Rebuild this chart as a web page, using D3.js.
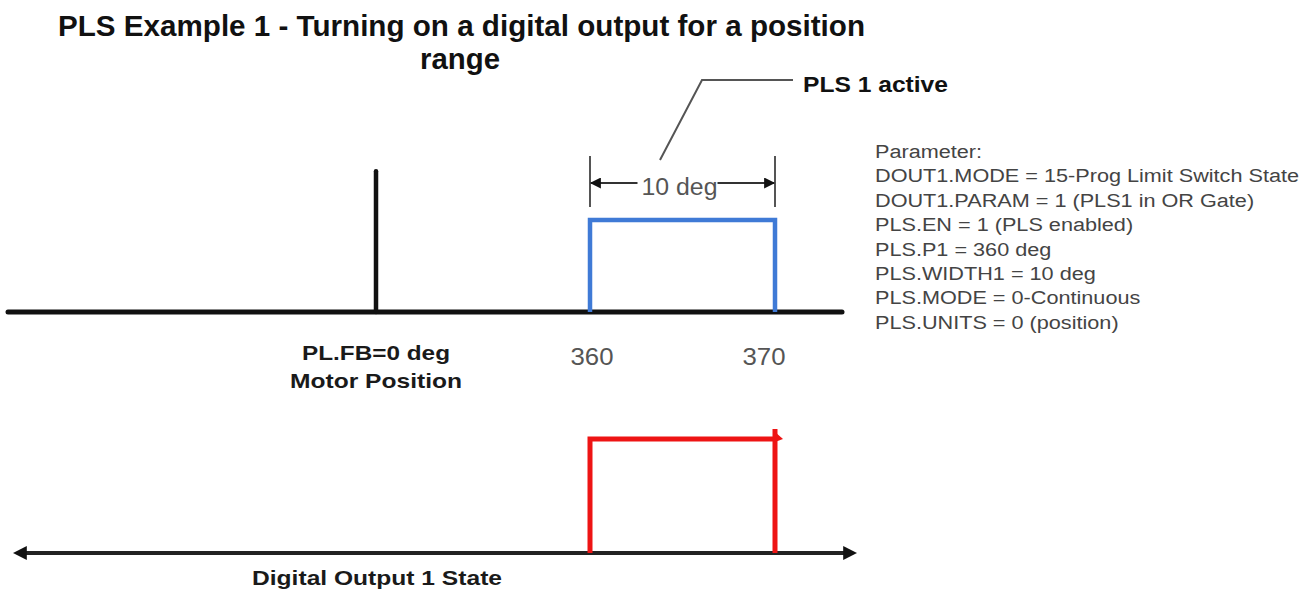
<!DOCTYPE html>
<html>
<head>
<meta charset="utf-8">
<script src="https://cdn.jsdelivr.net/npm/d3@7"></script>
<style>
  html, body { margin: 0; padding: 0; background: #fff; }
  svg { display: block; font-family: "Liberation Sans", Arial, sans-serif; }
</style>
</head>
<body>
<svg id="chart" width="1299" height="589"></svg>
<script>
// ---------- data ----------
const titleLines = ["PLS Example 1 - Turning on a digital output for a position", "range"];
const motorMarkerPos = 0;                      // PL.FB = 0 deg
const motorLabels = ["PL.FB=0 deg", "Motor Position"];
const tickPositions = [360, 370];              // deg
const tickLabels = ["360", "370"];
const plsStart = 360;                          // PLS.P1
const plsWidth = 10;                           // PLS.WIDTH1
const plsWidthLabel = "10 deg";
const plsCallout = "PLS 1 active";
const plsSignalX = [plsStart, plsStart, plsStart + plsWidth, plsStart + plsWidth];
const plsSignalV = [0, 1, 1, 0];
const doutSignalX = [plsStart, plsStart, plsStart + plsWidth, plsStart + plsWidth];
const doutSignalV = [0, 1, 1, 0];
const doutLabel = "Digital Output 1 State";
const paramLines = [
  "Parameter:",
  "DOUT1.MODE = 15-Prog Limit Switch State",
  "DOUT1.PARAM = 1 (PLS1 in OR Gate)",
  "PLS.EN = 1 (PLS enabled)",
  "PLS.P1 = 360 deg",
  "PLS.WIDTH1 = 10 deg",
  "PLS.MODE = 0-Continuous",
  "PLS.UNITS = 0 (position)"
];

// ---------- layout ----------
const svg = d3.select("#chart");
// schematic (piecewise) position scale
const x = d3.scaleLinear().domain([0, 360, 370]).range([376, 590, 775]);
const yTop = d3.scaleLinear().domain([0, 1]).range([312, 220]);
const yBot = d3.scaleLinear().domain([0, 1]).range([553, 439]);
const axisTop = { x0: 8, x1: 842 };
const axisBot = { x0: 12, x1: 858 };

const defs = svg.append("defs");
defs.append("marker").attr("id", "arrBlack")
  .attr("viewBox", "0 0 10 10").attr("refX", 2).attr("refY", 5)
  .attr("markerUnits", "userSpaceOnUse").attr("markerWidth", 14).attr("markerHeight", 16)
  .attr("orient", "auto-start-reverse")
  .append("path").attr("d", "M0,0 L10,5 L0,10 Z").attr("fill", "#111");
defs.append("marker").attr("id", "arrDim")
  .attr("viewBox", "0 0 10 10").attr("refX", 9).attr("refY", 5)
  .attr("markerUnits", "userSpaceOnUse").attr("markerWidth", 14).attr("markerHeight", 11)
  .attr("orient", "auto-start-reverse")
  .append("path").attr("d", "M0,0 L10,5 L0,10 Z").attr("fill", "#111");

// ---------- title ----------
svg.append("text").attr("x", 58).attr("y", 36)
  .attr("font-size", 29).attr("font-weight", "bold").attr("fill", "#111")
  .attr("textLength", 807).attr("lengthAdjust", "spacingAndGlyphs")
  .text(titleLines[0]);
svg.append("text").attr("x", 460).attr("y", 69).attr("text-anchor", "middle")
  .attr("font-size", 29).attr("font-weight", "bold").attr("fill", "#111")
  .attr("textLength", 80).attr("lengthAdjust", "spacingAndGlyphs")
  .text(titleLines[1]);

// ---------- top: motor position ----------
svg.append("line")
  .attr("x1", axisTop.x0).attr("x2", axisTop.x1)
  .attr("y1", yTop(0)).attr("y2", yTop(0))
  .attr("stroke", "#111").attr("stroke-width", 5).attr("stroke-linecap", "round");

svg.append("line")
  .attr("x1", x(motorMarkerPos)).attr("x2", x(motorMarkerPos))
  .attr("y1", yTop(0)).attr("y2", yTop(1.53))
  .attr("stroke", "#111").attr("stroke-width", 4.5).attr("stroke-linecap", "round");

const line = (ys) => d3.line().x(d => x(d[0])).y(d => ys(d[1]));

svg.append("path")
  .datum(d3.zip(plsSignalX, plsSignalV))
  .attr("d", line(yTop))
  .attr("fill", "none").attr("stroke", "#3f7ad6").attr("stroke-width", 4.5)
  .attr("stroke-linejoin", "miter");

// labels under the top axis
svg.append("text").attr("x", x(motorMarkerPos)).attr("y", 360).attr("text-anchor", "middle")
  .attr("font-size", 21).attr("font-weight", "bold").attr("fill", "#1a1a1a")
  .attr("textLength", 148).attr("lengthAdjust", "spacingAndGlyphs")
  .text(motorLabels[0]);
svg.append("text").attr("x", x(motorMarkerPos)).attr("y", 388).attr("text-anchor", "middle")
  .attr("font-size", 21).attr("font-weight", "bold").attr("fill", "#1a1a1a")
  .attr("textLength", 172).attr("lengthAdjust", "spacingAndGlyphs")
  .text(motorLabels[1]);

svg.selectAll("text.tick").data(tickPositions).join("text").attr("class", "tick")
  .attr("x", (d, i) => x(d) + (i === 0 ? 2 : -11)).attr("y", 365).attr("text-anchor", "middle")
  .attr("font-size", 23).attr("fill", "#555")
  .attr("textLength", 43).attr("lengthAdjust", "spacingAndGlyphs")
  .text((d, i) => tickLabels[i]);

// dimension: 10 deg
const dimY = 183;
[plsStart, plsStart + plsWidth].forEach(p => {
  svg.append("line").attr("x1", x(p)).attr("x2", x(p)).attr("y1", 156).attr("y2", 207)
    .attr("stroke", "#555").attr("stroke-width", 2);
});
const dimMid = (x(plsStart) + x(plsStart + plsWidth)) / 2 - 3;
svg.append("line").attr("x1", dimMid - 42).attr("x2", x(plsStart) + 1).attr("y1", dimY).attr("y2", dimY)
  .attr("stroke", "#333").attr("stroke-width", 2).attr("marker-end", "url(#arrDim)");
svg.append("line").attr("x1", dimMid + 38).attr("x2", x(plsStart + plsWidth) - 1).attr("y1", dimY).attr("y2", dimY)
  .attr("stroke", "#333").attr("stroke-width", 2).attr("marker-end", "url(#arrDim)");
svg.append("text").attr("x", dimMid).attr("y", 195).attr("text-anchor", "middle")
  .attr("font-size", 23).attr("fill", "#555")
  .attr("textLength", 76).attr("lengthAdjust", "spacingAndGlyphs")
  .text(plsWidthLabel);

// callout leader
svg.append("path")
  .attr("d", d3.line()([[660, 160], [702, 80], [793, 80]]))
  .attr("fill", "none").attr("stroke", "#555").attr("stroke-width", 2);
svg.append("text").attr("x", 803).attr("y", 92)
  .attr("font-size", 22).attr("font-weight", "bold").attr("fill", "#111")
  .attr("textLength", 145).attr("lengthAdjust", "spacingAndGlyphs")
  .text(plsCallout);

// parameter block
const pg = svg.append("g").attr("transform", "translate(875,0) scale(1.14,1)");
pg.selectAll("text").data(paramLines).join("text")
  .attr("x", 0).attr("y", (d, i) => 158 + i * 24.4)
  .attr("font-size", 19).attr("fill", "#444")
  .text(d => d);

// ---------- bottom: digital output ----------
svg.append("line")
  .attr("x1", axisBot.x0 + 12).attr("x2", axisBot.x1 - 12)
  .attr("y1", yBot(0)).attr("y2", yBot(0))
  .attr("stroke", "#222").attr("stroke-width", 4)
  .attr("marker-start", "url(#arrBlack)").attr("marker-end", "url(#arrBlack)");

svg.append("path")
  .datum(d3.zip(doutSignalX, doutSignalV))
  .attr("d", line(yBot))
  .attr("fill", "none").attr("stroke", "#ee1414").attr("stroke-width", 5)
  .attr("stroke-linejoin", "miter");
// small overshoot at the falling edge top
svg.append("line")
  .attr("x1", x(plsStart + plsWidth)).attr("x2", x(plsStart + plsWidth))
  .attr("y1", yBot(1)).attr("y2", yBot(1) - 10)
  .attr("stroke", "#ee1414").attr("stroke-width", 5);
svg.append("path")
  .attr("d", `M${x(plsStart + plsWidth)},${yBot(1) - 7} L${x(plsStart + plsWidth) + 8},${yBot(1)} L${x(plsStart + plsWidth)},${yBot(1) + 3} Z`)
  .attr("fill", "#ee1414");

svg.append("text").attr("x", 377).attr("y", 585).attr("text-anchor", "middle")
  .attr("font-size", 21).attr("font-weight", "bold").attr("fill", "#1a1a1a")
  .attr("textLength", 250).attr("lengthAdjust", "spacingAndGlyphs")
  .text(doutLabel);
</script>
</body>
</html>
